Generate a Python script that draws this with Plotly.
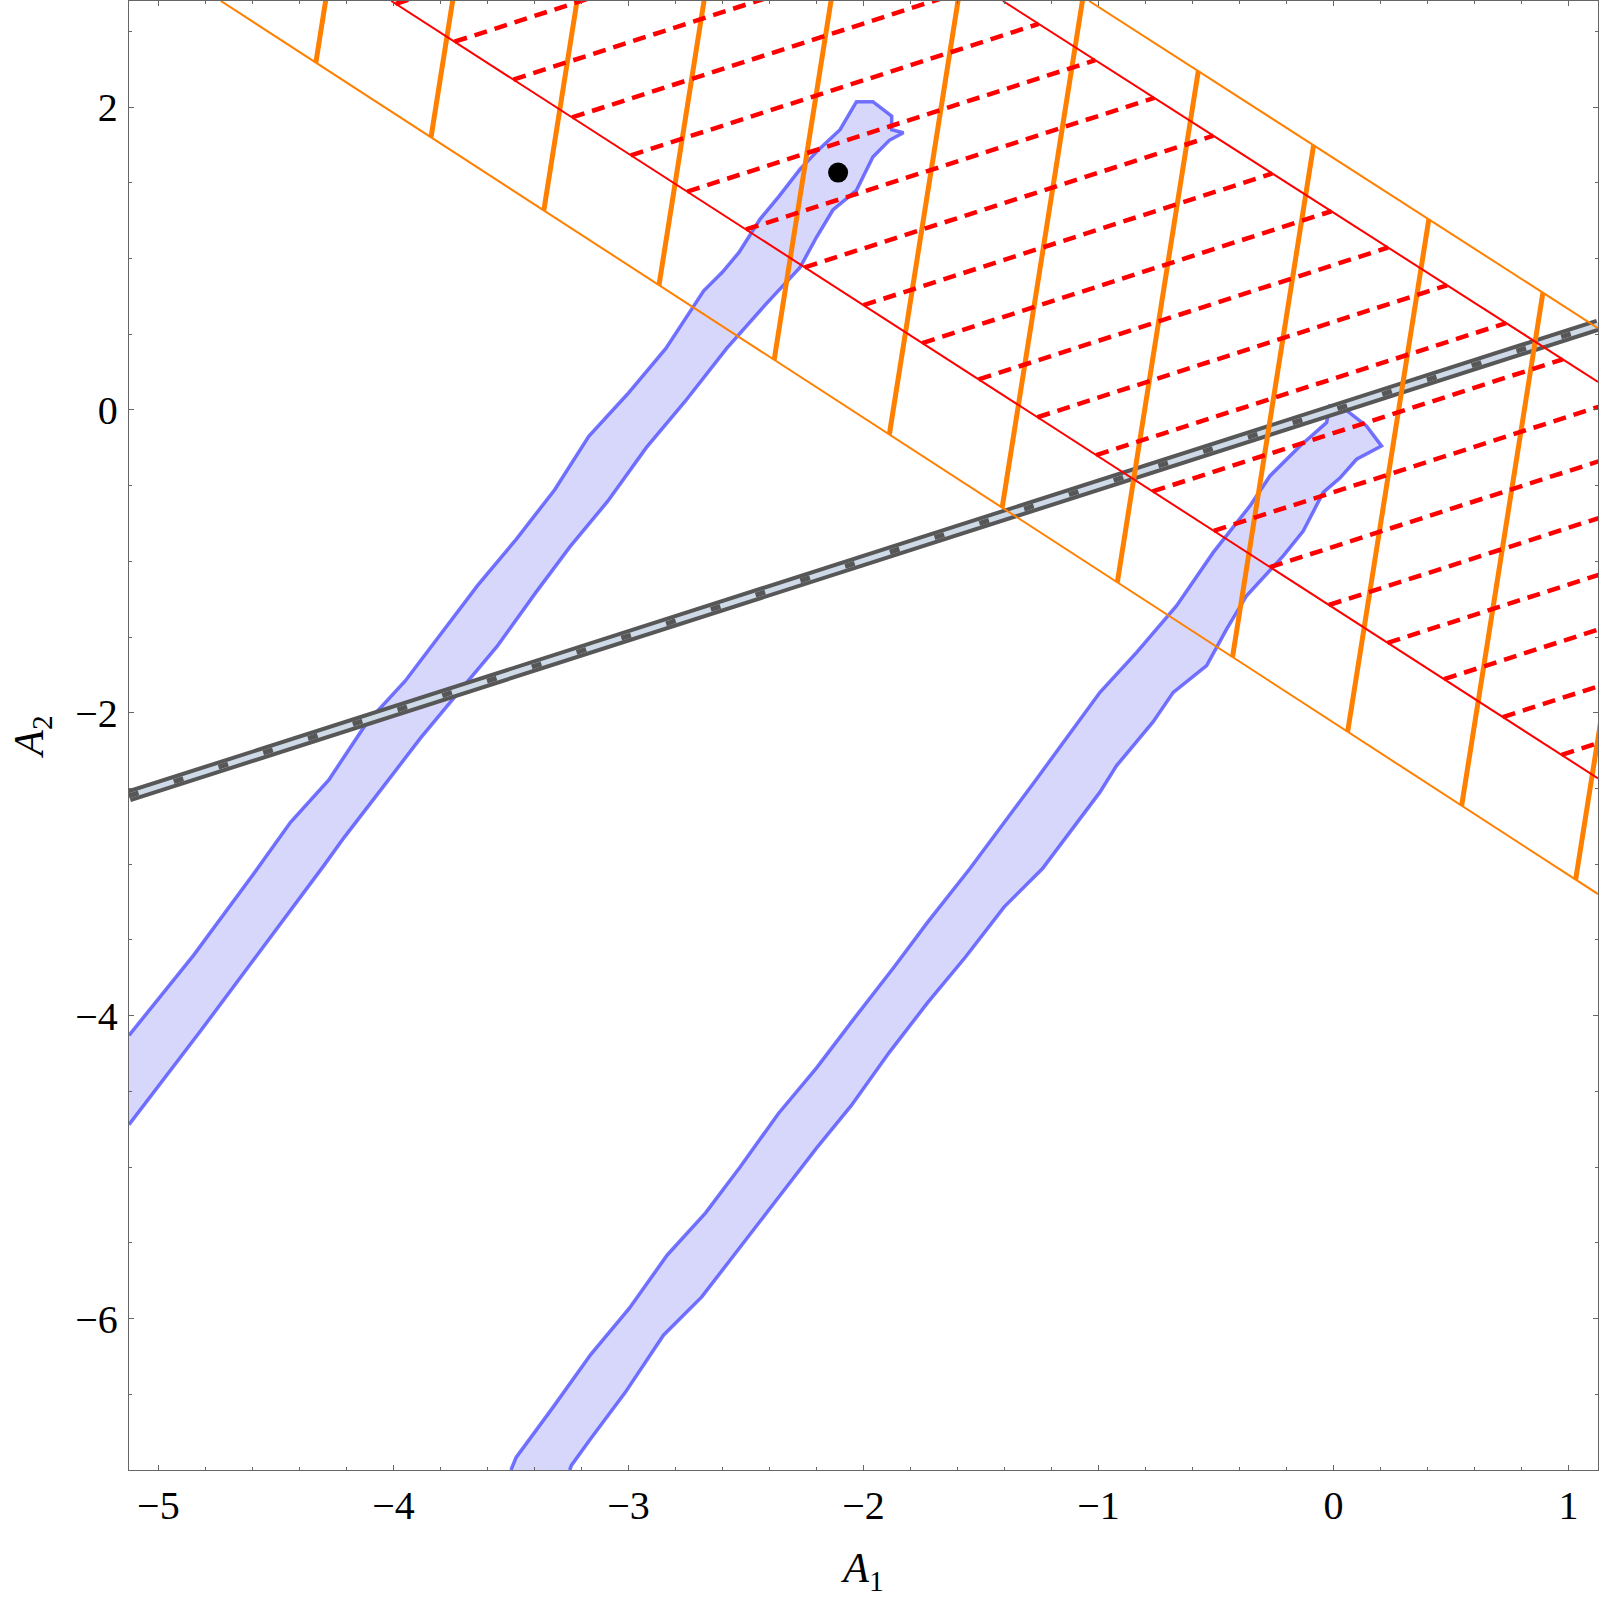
import numpy as np
import plotly.graph_objects as go

# axis ranges and ticks
x_range = [-5.125, 1.125]
y_range = [-7.0, 2.7]
x_ticks = [-5, -4, -3, -2, -1, 0, 1]
x_tick_text = ["−5", "−4", "−3", "−2", "−1", "0", "1"]
y_ticks = [-6, -4, -2, 0, 2]
y_tick_text = ["−6", "−4", "−2", "0", "2"]

# upper-left allowed region (outline)
left_band_x = [-5.125, -4.85, -4.601, -4.438, -4.275, -4.114, -3.950, -3.803, -3.641, -3.477,
               -3.314, -3.169, -3.005, -2.841, -2.680, -2.600, -2.530, -2.440, -2.360, -2.270,
               -2.190, -2.100, -2.045, -2.030, -1.960, -1.880, -1.880, -1.830, -1.890, -1.960,
               -2.030, -2.130, -2.200, -2.270, -2.420, -2.582, -2.760, -2.924, -3.088, -3.250,
               -3.396, -3.559, -3.722, -3.884, -4.047, -4.210, -4.292, -4.560, -4.820, -5.125]
left_band_y = [-4.13, -3.60, -3.076, -2.723, -2.443, -2.067, -1.790, -1.487, -1.157, -0.853,
               -0.527, -0.174, 0.103, 0.406, 0.786, 0.910, 1.040, 1.260, 1.410, 1.590,
               1.720, 1.850, 2.000, 2.035, 2.035, 1.940, 1.850, 1.830, 1.780, 1.670,
               1.450, 1.320, 1.140, 0.940, 0.690, 0.406, 0.054, -0.249, -0.603, -0.906,
               -1.210, -1.562, -1.863, -2.166, -2.496, -2.824, -3.001, -3.560, -4.100, -4.720]

# lower-right allowed region
right_band_x = [-3.500, -3.478, -3.323, -3.160, -2.997, -2.835, -2.672, -2.525, -2.362, -2.199,
                -2.037, -1.874, -1.728, -1.548, -1.270, -0.994, -0.838, -0.668, -0.512, -0.356,
                -0.271, -0.143, -0.030, -0.016, 0.039, 0.140, 0.204, 0.098, 0.027, -0.044,
                -0.129, -0.214, -0.370, -0.455, -0.540, -0.682, -0.768, -0.923, -0.994, -1.239,
                -1.402, -1.565, -1.727, -1.890, -2.053, -2.199, -2.362, -2.525, -2.688, -2.851,
                -3.014, -3.160, -3.242, -3.250]
right_band_y = [-7.000, -6.917, -6.590, -6.236, -5.933, -5.580, -5.302, -4.999, -4.646, -4.343,
                -4.013, -3.687, -3.384, -3.030, -2.450, -1.865, -1.601, -1.293, -0.941, -0.634,
                -0.436, -0.238, -0.084, 0.026, 0.017, -0.106, -0.238, -0.326, -0.450, -0.545,
                -0.800, -0.964, -1.227, -1.447, -1.689, -1.865, -2.060, -2.349, -2.524, -3.030,
                -3.283, -3.611, -3.914, -4.242, -4.596, -4.873, -5.201, -5.530, -5.857, -6.110,
                -6.489, -6.792, -6.968, -7.000]

best_fit_x = [-2.108]
best_fit_y = [1.567]

# grey constraint line
gray_line_x = [-5.125, 1.125]
gray_line_y = [-2.549, 0.560]

# orange band boundaries and hatch positions
orange_upper_x = [-1.040, 1.125]
orange_upper_y = [2.700, 0.540]
orange_lower_x = [-4.734, 1.125]
orange_lower_y = [2.700, -3.197]
orange_hatch_x = [-4.33, -3.84, -3.36, -2.87, -2.38, -1.89, -1.41, -0.92, -0.43, 0.06, 0.545, 1.03]
orange_hatch_slope = 9.8

# red band boundaries and hatch positions
red_upper_x = [-1.407, 1.125]
red_upper_y = [2.700, 0.185]
red_lower_x = [-4.009, 1.125]
red_lower_y = [2.700, -2.433]
red_hatch_x = [-3.99, -3.74, -3.49, -3.24, -2.99, -2.75, -2.50, -2.25, -2.00, -1.75, -1.51,
               -1.26, -1.01, -0.77, -0.51, -0.27, -0.02, 0.23, 0.47, 0.72, 0.97]
red_hatch_slope = 0.5

ORANGE = "#ff8000"
RED = "#ff0000"
GREY = "#575757"
FONT = "Liberation Serif, Times New Roman, serif"


def line_coef(xs, ys):
    m = (ys[1] - ys[0]) / (xs[1] - xs[0])
    return m, ys[0] - m * xs[0]


def hatch_segments(bases, lower, upper, slope):
    m0, b0 = line_coef(*lower)
    m1, b1 = line_coef(*upper)
    hx, hy = [], []
    for xb in bases:
        yb = m0 * xb + b0
        t = (m1 * xb + b1 - yb) / (slope - m1)
        hx += [xb, xb + t, None]
        hy += [yb, yb + slope * t, None]
    return hx, hy


fig = go.Figure()

# confidence regions
for bx, by in [(left_band_x, left_band_y), (right_band_x, right_band_y)]:
    fig.add_trace(go.Scatter(x=bx, y=by, mode="lines", fill="toself",
                             fillcolor="#d7d7fc", line=dict(width=0)))
    fig.add_trace(go.Scatter(x=bx, y=by, mode="lines",
                             line=dict(color="rgba(70,70,255,0.75)", width=3.5)))

# grey line: dark rim, light core, dashed centre
fig.add_trace(go.Scatter(x=gray_line_x, y=gray_line_y, mode="lines",
                         line=dict(color=GREY, width=13)))
fig.add_trace(go.Scatter(x=gray_line_x, y=gray_line_y, mode="lines",
                         line=dict(color="#cfdae8", width=5)))
fig.add_trace(go.Scatter(x=gray_line_x, y=gray_line_y, mode="lines",
                         line=dict(color=GREY, width=5, dash="10px,37px")))

# orange band
hx, hy = hatch_segments(orange_hatch_x, (orange_lower_x, orange_lower_y),
                        (orange_upper_x, orange_upper_y), orange_hatch_slope)
fig.add_trace(go.Scatter(x=hx, y=hy, mode="lines", line=dict(color=ORANGE, width=5)))
for lx, ly in [(orange_upper_x, orange_upper_y), (orange_lower_x, orange_lower_y)]:
    fig.add_trace(go.Scatter(x=lx, y=ly, mode="lines", line=dict(color=ORANGE, width=2)))

# red band
hx, hy = hatch_segments(red_hatch_x, (red_lower_x, red_lower_y),
                        (red_upper_x, red_upper_y), red_hatch_slope)
fig.add_trace(go.Scatter(x=hx, y=hy, mode="lines",
                         line=dict(color=RED, width=4.5, dash="13px,8px")))
for lx, ly in [(red_upper_x, red_upper_y), (red_lower_x, red_lower_y)]:
    fig.add_trace(go.Scatter(x=lx, y=ly, mode="lines", line=dict(color=RED, width=2)))

# best fit point
fig.add_trace(go.Scatter(x=best_fit_x, y=best_fit_y, mode="markers",
                         marker=dict(color="black", size=20)))

axis_style = dict(showgrid=False, zeroline=False, showline=True, linecolor="#666666",
                  linewidth=1.3, mirror="ticks", ticks="inside", ticklen=5,
                  tickcolor="#666666", tickwidth=1, automargin=False,
                  tickfont=dict(family=FONT, size=40, color="black"))

fig.update_xaxes(range=x_range, tickvals=x_ticks, ticktext=x_tick_text,
                 minor=dict(tickmode="linear", tick0=0, dtick=0.2, ticks="inside",
                            ticklen=3, tickcolor="#666666"),
                 title=dict(text="<i>A</i><sub>1</sub>", standoff=25,
                            font=dict(family=FONT, size=42, color="black")),
                 **axis_style)
fig.update_yaxes(range=y_range, tickvals=y_ticks, ticktext=y_tick_text,
                 ticklabelstandoff=2,
                 minor=dict(tickmode="linear", tick0=0, dtick=0.5, ticks="inside",
                            ticklen=3, tickcolor="#666666"),
                 title=dict(text="<i>A</i><sub>2</sub>", standoff=18,
                            font=dict(family=FONT, size=42, color="black")),
                 **axis_style)

fig.update_layout(width=1600, height=1599, showlegend=False,
                  margin=dict(l=129, r=2, t=1, b=129),
                  plot_bgcolor="white", paper_bgcolor="white", hovermode=False)

# drop the default page margin so the figure sits at the window corner
fig.write_html("out.html", config={"displayModeBar": False},
               post_script="document.body.style.margin='0';")
